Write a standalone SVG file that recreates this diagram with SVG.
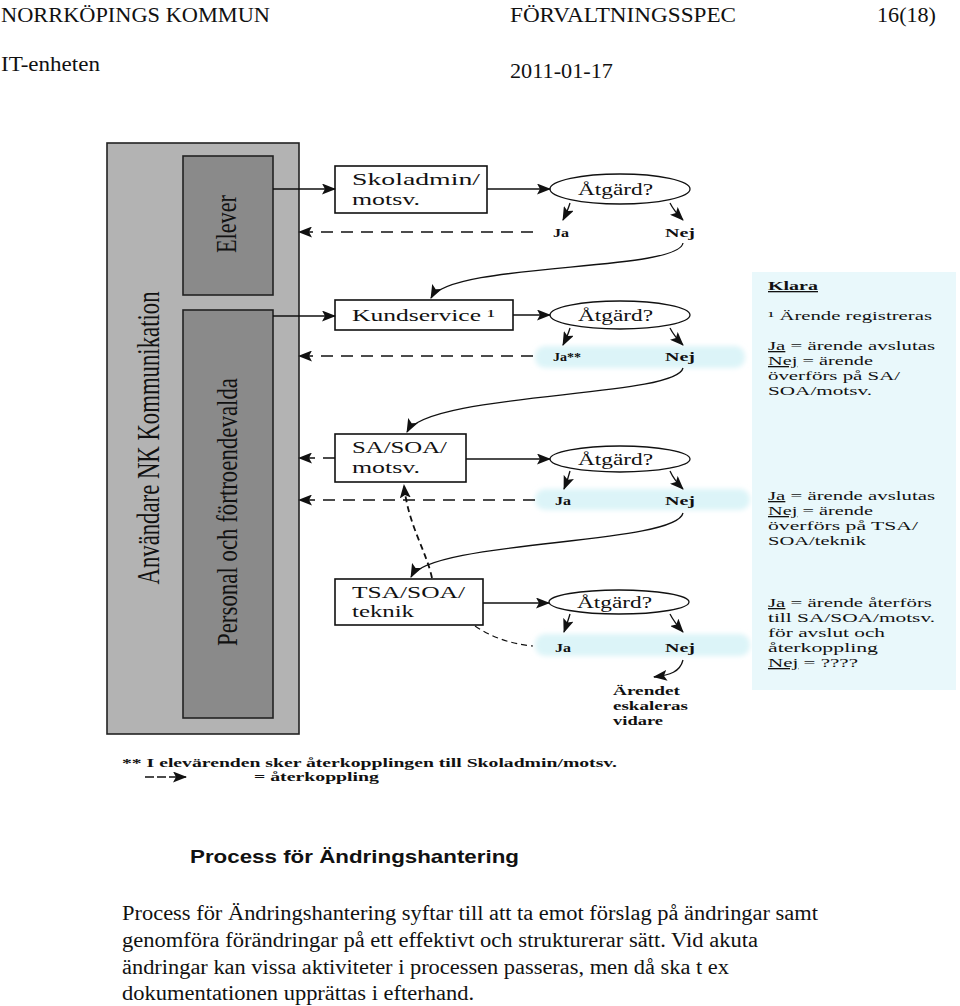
<svg xmlns="http://www.w3.org/2000/svg" width="960" height="1006" viewBox="0 0 960 1006">
<style>
.hdr{font-family:"Liberation Serif","Times New Roman",serif;font-size:21px;fill:#111}
.box{fill:#fff;stroke:#111;stroke-width:1.6}
.bt{font-family:"Liberation Serif","Times New Roman",serif;font-size:16px;fill:#111}
.ell{fill:#fff;stroke:#111;stroke-width:1.3}
.lbl{font-family:"Liberation Serif","Times New Roman",serif;font-size:13px;font-weight:bold;fill:#111}
.pt{font-family:"Liberation Serif","Times New Roman",serif;font-size:13px;fill:#111}
.rot{font-family:"Liberation Serif","Times New Roman",serif;fill:#111}
.solid{fill:none;stroke:#111;stroke-width:1.3}
.dash{fill:none;stroke:#111;stroke-width:1.5;stroke-dasharray:12,8}
.dash2{fill:none;stroke:#111;stroke-width:1.8;stroke-dasharray:6,4}
.body{font-family:"Liberation Serif","Times New Roman",serif;font-size:20px;fill:#111}
.band{fill:#dcf4f8;filter:url(#blur)}
</style>
<defs>
<marker id="ah" markerWidth="14" markerHeight="11" refX="13" refY="5.5" orient="auto" markerUnits="userSpaceOnUse">
<path d="M0,0 L14,5.5 L0,11 L3,5.5 z" fill="#111"/>
</marker>
<filter id="blur" x="-10%" y="-50%" width="120%" height="200%"><feGaussianBlur stdDeviation="2.5"/></filter>
</defs>

<g id="header">
<text class="hdr" x="1" y="22" textLength="269" lengthAdjust="spacingAndGlyphs">NORRKÖPINGS KOMMUN</text>
<text class="hdr" x="510" y="22" textLength="226" lengthAdjust="spacingAndGlyphs">FÖRVALTNINGSSPEC</text>
<text class="hdr" x="877" y="22" textLength="59" lengthAdjust="spacingAndGlyphs">16(18)</text>
<text class="hdr" x="1" y="71" textLength="99" lengthAdjust="spacingAndGlyphs">IT-enheten</text>
<text class="hdr" x="510" y="78" textLength="103" lengthAdjust="spacingAndGlyphs">2011-01-17</text>
</g>

<g id="bands">
<rect class="band" x="535" y="346" width="210" height="22" rx="10"/>
<rect class="band" x="535" y="489" width="215" height="21" rx="10"/>
<rect class="band" x="535" y="634" width="215" height="22" rx="10"/>
</g>

<g id="users">
<rect x="107" y="143" width="192" height="591" fill="#b3b3b3" stroke="#222" stroke-width="1.6"/>
<text class="rot" font-size="32" text-anchor="middle" transform="translate(159,438) rotate(-90)" textLength="293" lengthAdjust="spacingAndGlyphs">Användare NK Kommunikation</text>
</g>
<g id="elever">
<rect x="183" y="156" width="90" height="139" fill="#8a8a8a" stroke="#222" stroke-width="1.6"/>
<text class="rot" font-size="30" text-anchor="middle" transform="translate(236,224) rotate(-90)" textLength="58" lengthAdjust="spacingAndGlyphs">Elever</text>
</g>
<g id="personal">
<rect x="183" y="310" width="90" height="408" fill="#8a8a8a" stroke="#222" stroke-width="1.6"/>
<text class="rot" font-size="30" text-anchor="middle" transform="translate(237,512) rotate(-90)" textLength="268" lengthAdjust="spacingAndGlyphs">Personal och förtroendevalda</text>
</g>

<g id="skoladmin">
<rect class="box" x="335" y="166" width="152" height="47"/>
<text class="bt" x="352" y="185" textLength="128" lengthAdjust="spacingAndGlyphs">Skoladmin/</text>
<text class="bt" x="352" y="205" textLength="68" lengthAdjust="spacingAndGlyphs">motsv.</text>
</g>
<g id="kundservice">
<rect class="box" x="335" y="300" width="178" height="30"/>
<text class="bt" x="352" y="321" textLength="143" lengthAdjust="spacingAndGlyphs">Kundservice ¹</text>
</g>
<g id="sasoa">
<rect class="box" x="335" y="434" width="131" height="48"/>
<text class="bt" x="352" y="453" textLength="95" lengthAdjust="spacingAndGlyphs">SA/SOA/</text>
<text class="bt" x="352" y="473" textLength="68" lengthAdjust="spacingAndGlyphs">motsv.</text>
</g>
<g id="tsasoa">
<rect class="box" x="335" y="579" width="148" height="46"/>
<text class="bt" x="352" y="598" textLength="113" lengthAdjust="spacingAndGlyphs">TSA/SOA/</text>
<text class="bt" x="352" y="617" textLength="62" lengthAdjust="spacingAndGlyphs">teknik</text>
</g>

<g id="atgard1">
<ellipse class="ell" cx="620" cy="189" rx="70" ry="15"/>
<text class="bt" x="578" y="195" textLength="75" lengthAdjust="spacingAndGlyphs">Åtgärd?</text>
</g>
<g id="atgard2">
<ellipse class="ell" cx="620" cy="315" rx="70" ry="14"/>
<text class="bt" x="578" y="321" textLength="75" lengthAdjust="spacingAndGlyphs">Åtgärd?</text>
</g>
<g id="atgard3">
<ellipse class="ell" cx="620" cy="459" rx="70" ry="13"/>
<text class="bt" x="578" y="465" textLength="75" lengthAdjust="spacingAndGlyphs">Åtgärd?</text>
</g>
<g id="atgard4">
<ellipse class="ell" cx="619" cy="602" rx="70" ry="12"/>
<text class="bt" x="577" y="608" textLength="75" lengthAdjust="spacingAndGlyphs">Åtgärd?</text>
</g>

<g id="labels">
<text class="lbl" x="553" y="237" textLength="16" lengthAdjust="spacingAndGlyphs">Ja</text>
<text class="lbl" x="665" y="237" textLength="30" lengthAdjust="spacingAndGlyphs">Nej</text>
<text class="lbl" x="553" y="361" textLength="28" lengthAdjust="spacingAndGlyphs">Ja**</text>
<text class="lbl" x="665" y="361" textLength="30" lengthAdjust="spacingAndGlyphs">Nej</text>
<text class="lbl" x="555" y="505" textLength="16" lengthAdjust="spacingAndGlyphs">Ja</text>
<text class="lbl" x="665" y="505" textLength="30" lengthAdjust="spacingAndGlyphs">Nej</text>
<text class="lbl" x="555" y="652" textLength="16" lengthAdjust="spacingAndGlyphs">Ja</text>
<text class="lbl" x="665" y="652" textLength="30" lengthAdjust="spacingAndGlyphs">Nej</text>
</g>

<g id="escalate">
<text class="lbl" x="613" y="695" textLength="67" lengthAdjust="spacingAndGlyphs">Ärendet</text>
<text class="lbl" x="613" y="710" textLength="75" lengthAdjust="spacingAndGlyphs">eskaleras</text>
<text class="lbl" x="613" y="725" textLength="50" lengthAdjust="spacingAndGlyphs">vidare</text>
</g>

<g id="connectors">
<path class="solid" d="M273,189 L335,189" marker-end="url(#ah)"/>
<path class="solid" d="M273,316 L335,316" marker-end="url(#ah)"/>
<path class="solid" d="M487,189 L550,189" marker-end="url(#ah)"/>
<path class="solid" d="M513,315 L550,315" marker-end="url(#ah)"/>
<path class="solid" d="M466,459 L550,459" marker-end="url(#ah)"/>
<path class="solid" d="M483,603 L549,603" marker-end="url(#ah)"/>

<path class="solid" d="M570,203 Q568,210 563,220" marker-end="url(#ah)"/>
<path class="solid" d="M670,203 Q674,211 683,220" marker-end="url(#ah)"/>
<path class="solid" d="M570,328 Q568,335 563,345" marker-end="url(#ah)"/>
<path class="solid" d="M670,328 Q674,336 683,345" marker-end="url(#ah)"/>
<path class="solid" d="M570,471 Q568,479 564,489" marker-end="url(#ah)"/>
<path class="solid" d="M670,471 Q674,480 683,489" marker-end="url(#ah)"/>
<path class="solid" d="M570,614 Q568,621 564,632" marker-end="url(#ah)"/>
<path class="solid" d="M670,614 Q674,622 683,632" marker-end="url(#ah)"/>

<path class="solid" d="M683,243 C678,272 450,262 431,298" marker-end="url(#ah)"/>
<path class="solid" d="M683,368 C676,398 428,392 407,432" marker-end="url(#ah)"/>
<path class="solid" d="M683,513 C676,545 430,540 411,577" marker-end="url(#ah)"/>
<path class="solid" d="M683,660 C680,672 670,675 654,677" marker-end="url(#ah)"/>

<path class="dash" d="M533,232 L299,232" marker-end="url(#ah)"/>
<path class="dash" d="M533,356 L299,356" marker-end="url(#ah)"/>
<path class="dash" d="M335,458 L299,458" marker-end="url(#ah)"/>
<path class="dash" d="M535,500 L299,500" marker-end="url(#ah)"/>
<path class="dash2" d="M432,578 C426,550 408,525 404,485" marker-end="url(#ah)"/>
<path class="dash" d="M475,626 Q500,643 533,646" style="stroke-dasharray:6,4;stroke-width:1.2"/>
</g>

<g id="panel">
<rect x="752" y="272" width="204" height="418" fill="#e9f8fb"/>
<text class="pt" x="768" y="290" font-weight="bold" text-decoration="underline" textLength="50" lengthAdjust="spacingAndGlyphs">Klara</text>
<text class="pt" x="768" y="320" textLength="164" lengthAdjust="spacingAndGlyphs">¹ Ärende registreras</text>
<text class="pt" x="768" y="350" textLength="167" lengthAdjust="spacingAndGlyphs"><tspan text-decoration="underline">Ja</tspan> = ärende avslutas</text>
<text class="pt" x="768" y="365" textLength="105" lengthAdjust="spacingAndGlyphs"><tspan text-decoration="underline">Nej</tspan> = ärende</text>
<text class="pt" x="768" y="380" textLength="132" lengthAdjust="spacingAndGlyphs">överförs på SA/</text>
<text class="pt" x="768" y="395" textLength="104" lengthAdjust="spacingAndGlyphs">SOA/motsv.</text>
<text class="pt" x="768" y="500" textLength="167" lengthAdjust="spacingAndGlyphs"><tspan text-decoration="underline">Ja</tspan> = ärende avslutas</text>
<text class="pt" x="768" y="515" textLength="105" lengthAdjust="spacingAndGlyphs"><tspan text-decoration="underline">Nej</tspan> = ärende</text>
<text class="pt" x="768" y="530" textLength="150" lengthAdjust="spacingAndGlyphs">överförs på TSA/</text>
<text class="pt" x="768" y="545" textLength="98" lengthAdjust="spacingAndGlyphs">SOA/teknik</text>
<text class="pt" x="768" y="607" textLength="164" lengthAdjust="spacingAndGlyphs"><tspan text-decoration="underline">Ja</tspan> = ärende återförs</text>
<text class="pt" x="768" y="622" textLength="167" lengthAdjust="spacingAndGlyphs">till SA/SOA/motsv.</text>
<text class="pt" x="768" y="637" textLength="117" lengthAdjust="spacingAndGlyphs">för avslut och</text>
<text class="pt" x="768" y="652" textLength="110" lengthAdjust="spacingAndGlyphs">återkoppling</text>
<text class="pt" x="768" y="667" textLength="90" lengthAdjust="spacingAndGlyphs"><tspan text-decoration="underline">Nej</tspan> = ????</text>
</g>

<g id="legend">
<text class="pt" x="122" y="767" font-weight="bold" textLength="495" lengthAdjust="spacingAndGlyphs">** I elevärenden sker återkopplingen till Skoladmin/motsv.</text>
<path d="M145,777 L186,777" fill="none" stroke="#111" stroke-width="1.3" stroke-dasharray="9,3" marker-end="url(#ah)"/>
<text class="pt" x="254" y="781" font-weight="bold" textLength="125" lengthAdjust="spacingAndGlyphs">= återkoppling</text>
</g>

<g id="caption">
<text x="190" y="863" font-family="Liberation Sans, Arial, sans-serif" font-size="19" font-weight="bold" fill="#111" textLength="329" lengthAdjust="spacingAndGlyphs">Process för Ändringshantering</text>
<text class="body" x="122" y="920" textLength="696" lengthAdjust="spacingAndGlyphs">Process för Ändringshantering syftar till att ta emot förslag på ändringar samt</text>
<text class="body" x="122" y="947" textLength="636" lengthAdjust="spacingAndGlyphs">genomföra förändringar på ett effektivt och strukturerar sätt. Vid akuta</text>
<text class="body" x="122" y="974" textLength="607" lengthAdjust="spacingAndGlyphs">ändringar kan vissa aktiviteter i processen passeras, men då ska t ex</text>
<text class="body" x="122" y="1000" textLength="352" lengthAdjust="spacingAndGlyphs">dokumentationen upprättas i efterhand.</text>
</g>
</svg>
